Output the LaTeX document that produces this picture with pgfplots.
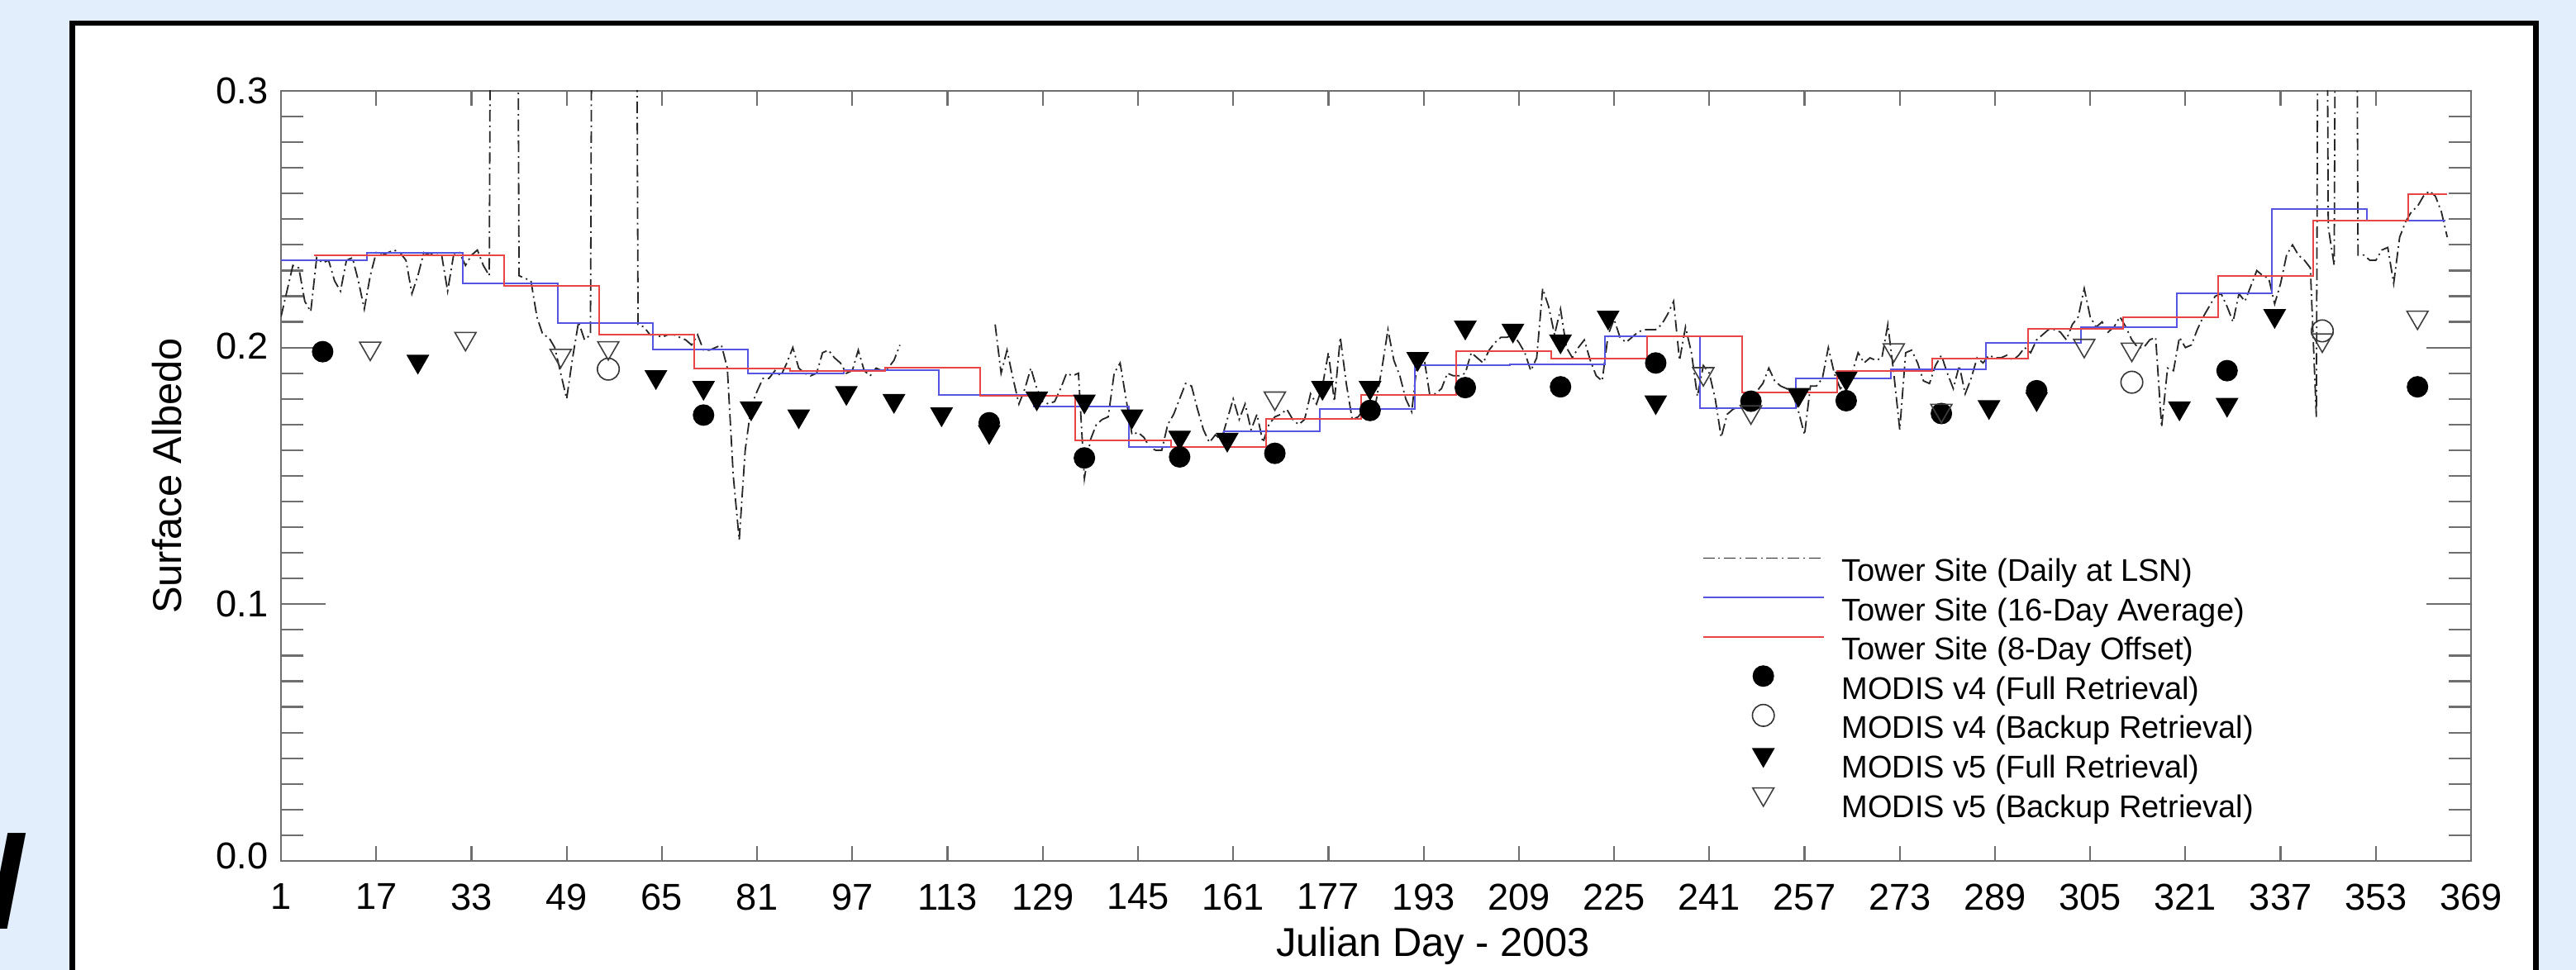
\documentclass[border=0pt]{standalone}
\usepackage{fontspec}
\setmainfont{Liberation Sans}
\usepackage{pgfplots}
\pgfplotsset{compat=1.18}
\definecolor{bgblue}{RGB}{226,238,252}
\definecolor{axgray}{RGB}{110,110,110}
\definecolor{avgblue}{RGB}{85,85,225}
\definecolor{offred}{RGB}{232,70,70}
\newcommand{\legendbox}{\pgfpathmoveto{\pgfpoint{0bp}{0bp}}\pgfpathlineto{\pgfpoint{36.5bp}{0bp}}\pgfusepath{}}
\pgfplotsset{
  linelegend/.style={legend image code/.code={\legendbox\begin{pgfinterruptboundingbox}\draw[##1] (0bp,4.4bp) -- (36.5bp,4.4bp);\end{pgfinterruptboundingbox}}},
  marklegend/.style={legend image code/.code={\legendbox\begin{pgfinterruptboundingbox}\draw[##1,only marks] plot coordinates {(18.25bp,4.4bp)};\end{pgfinterruptboundingbox}}},
}
\begin{document}
\begin{tikzpicture}
\path[use as bounding box] (0,0) rectangle (779.25bp,293.5bp);
\fill[bgblue] (0,0) rectangle (779.25bp,293.5bp);
\filldraw[fill=white,draw=black,line width=1.6bp] (21.9bp,-5bp) rectangle (767.1bp,286.5bp);
\node[anchor=base west,inner sep=0pt,font=\fontsize{40bp}{40bp}\selectfont\bfseries\itshape] at (-4bp,12.5bp) {l};
\begin{axis}[
  at={(85bp,33bp)}, anchor=south west,
  scale only axis, width=662.5bp, height=233bp,
  xmin=1, xmax=369, ymin=0, ymax=0.3,
  xtick={1,17,...,369},
  ytick={0,0.1,0.2,0.3},
  yticklabels={\raisebox{3.2bp}{0.0},0.1,\raisebox{1bp}{0.2},\raisebox{-2.5bp}{0.3}},
  minor y tick num=9,
  major tick length=4.5bp, minor tick length=6.75bp,
  extra y ticks={0.1,0.2},
  extra y tick labels={},
  extra tick style={major tick length=13.5bp},
  axis line style={axgray,line width=0.55bp},
  every tick/.style={axgray,line width=0.55bp},
  /pgf/number format/assume math mode=true,
  tick label style={font=\fontsize{11.3bp}{13bp}\selectfont,inner sep=0pt,black},
  yticklabel style={xshift=-3.75bp},
  xticklabel style={yshift=-6.75bp},
  xlabel={Julian Day - 2003},
  ylabel={Surface Albedo},
  xlabel style={at={(axis description cs:0.526,-0.1105)},anchor=center,font=\fontsize{12.2bp}{14bp}\selectfont},
  ylabel style={at={(axis description cs:-0.0521,0.5)},anchor=center,font=\fontsize{12.2bp}{14bp}\selectfont},
  unbounded coords=jump,
  legend style={at={(axis description cs:0.649,0.395)},anchor=north west,draw=none,fill=none,inner sep=0pt,
    font=\fontsize{9.5bp}{11bp}\selectfont,row sep=2.7bp,column sep=5.5bp,
    nodes={inner sep=0pt,text height=7.2bp,text depth=2bp}},
  legend cell align=left,
]
\addplot[black!85,line width=0.45bp,dash pattern=on 3.5bp off 1.2bp on 0.5bp off 1.2bp,linelegend] table {
x y
1 0.212
2 0.222
3 0.232
4 0.231
5 0.218
6 0.214
7 0.235
8 0.233
9 0.234
10 0.226
11 0.222
12 0.234
13 0.235
14 0.226
15 0.215
16 0.228
17 0.237
18 0.236
19 0.237
20 0.238
21 0.237
22 0.234
23 0.221
24 0.228
25 0.237
26 0.236
27 0.237
28 0.236
29 0.222
30 0.236
31 0.237
32 0.232
33 0.236
34 0.238
35 0.232
36 0.228
37 0.8
38 0.8
39 0.8
40 0.8
41 0.228
42 0.227
43 0.226
44 0.212
45 0.205
46 0.204
47 0.200
48 0.190
49 0.180
50 0.196
51 0.210
52 0.203
53 0.205
54 0.8
55 0.8
56 0.8
57 0.8
58 0.8
59 0.8
60 0.8
61 0.209
62 0.208
63 0.205
64 0.205
65 0.204
66 0.205
67 0.205
68 0.204
69 0.203
70 0.201
71 0.205
72 0.199
73 0.199
74 0.200
75 0.201
76 0.192
77 0.150
78 0.125
79 0.160
80 0.177
81 0.183
82 0.188
83 0.188
84 0.191
85 0.189
86 0.194
87 0.200
88 0.192
89 0.190
90 0.189
91 0.190
92 0.198
93 0.199
94 0.196
95 0.194
96 0.190
97 0.191
98 0.199
99 0.191
100 0.189
101 0.192
102 0.191
103 0.192
104 0.195
105 0.201
106 nan
121 0.209
122 0.190
123 0.199
124 0.188
125 0.178
126 0.184
127 0.192
128 0.184
129 0.179
130 0.178
131 0.179
132 0.184
133 0.190
134 0.189
135 0.190
136 0.149
137 0.164
138 0.170
139 0.172
140 0.173
141 0.190
142 0.194
143 0.180
144 0.166
145 0.167
146 0.165
147 0.161
148 0.160
149 0.160
150 0.170
151 0.174
152 0.180
153 0.186
154 0.185
155 0.176
156 0.168
157 0.163
158 0.166
159 0.164
160 0.172
161 0.180
162 0.172
163 0.178
164 0.168
165 0.174
166 0.163
167 0.170
168 0.173
169 0.174
170 0.176
171 0.172
172 0.170
173 0.172
174 0.182
175 0.178
176 0.185
177 0.198
178 0.179
179 0.204
180 0.186
181 0.172
182 0.173
183 0.176
184 0.178
185 0.179
186 0.192
187 0.207
188 0.195
189 0.189
190 0.180
191 0.175
192 0.196
193 0.197
194 0.182
195 0.182
196 0.184
197 0.190
198 0.189
199 0.189
200 0.190
201 0.198
202 0.196
203 0.194
204 0.199
205 0.202
206 0.204
207 0.204
208 0.205
209 0.202
210 0.198
211 0.191
212 0.196
213 0.223
214 0.216
215 0.205
216 0.215
217 0.200
218 0.196
219 0.200
220 0.203
221 0.195
222 0.189
223 0.187
224 0.205
225 0.211
226 0.204
227 0.202
228 0.204
229 0.206
230 0.207
231 0.207
232 0.207
233 0.209
234 0.213
235 0.218
236 0.195
237 0.208
238 0.198
239 0.181
240 0.193
241 0.190
242 0.180
243 0.165
244 0.174
245 0.176
246 0.177
247 0.179
248 0.179
249 0.183
250 0.186
251 0.192
252 0.187
253 0.185
254 0.184
255 0.182
256 0.175
257 0.166
258 0.185
259 0.185
260 0.188
261 0.200
262 0.190
263 0.184
264 0.186
265 0.190
266 0.198
267 0.194
268 0.196
269 0.195
270 0.196
271 0.209
272 0.190
273 0.168
274 0.198
275 0.199
276 0.194
277 0.187
278 0.186
279 0.193
280 0.197
281 0.190
282 0.184
283 0.193
284 0.182
285 0.188
286 0.196
287 0.194
288 0.197
289 0.196
290 0.196
291 0.197
292 0.195
293 0.197
294 0.200
295 0.198
296 0.203
297 0.205
298 0.207
299 0.207
300 0.206
301 0.203
302 0.209
303 0.212
304 0.223
305 0.212
306 0.208
307 0.210
308 0.206
309 0.208
310 0.212
311 0.208
312 0.203
313 0.200
314 0.200
315 0.203
316 0.204
317 0.169
318 0.192
319 0.191
320 0.204
321 0.200
322 0.201
323 0.207
324 0.212
325 0.216
326 0.220
327 0.221
328 0.216
329 0.210
330 0.221
331 0.218
332 0.224
333 0.230
334 0.228
335 0.227
336 0.217
337 0.225
338 0.236
339 0.240
340 0.236
341 0.234
342 0.231
343 0.173
344 0.8
345 0.247
346 0.232
347 0.8
348 0.8
349 0.8
350 0.236
351 0.236
352 0.234
353 0.234
354 0.238
355 0.239
356 0.225
357 0.243
358 0.249
359 0.253
360 0.255
361 0.259
362 0.261
363 0.259
364 0.253
365 0.243
};
\addlegendentry{Tower Site (Daily at LSN)}
\addplot[avgblue,line width=0.5bp,const plot mark left,linelegend] table {
x y
1 0.2339
15.5 0.2369
31.5 0.2249
47.5 0.2094
63.5 0.1993
79.5 0.1900
95.5 0.1913
111.5 0.1814
127.5 0.1769
143.5 0.1614
159.5 0.1674
175.5 0.1760
191.5 0.1931
207.5 0.1936
223.5 0.2043
239.5 0.1764
255.5 0.1880
271.5 0.1916
287.5 0.2019
303.5 0.2080
319.5 0.2210
335.5 0.2541
351.5 0.2494
364.7 0.2494
};
\addlegendentry{Tower Site (16-Day Average)}
\addplot[offred,line width=0.5bp,const plot mark left,linelegend] table {
x y
6.5 0.2359
22.5 0.2359
38.5 0.2240
54.5 0.2049
70.5 0.1919
86.5 0.1910
102.5 0.1922
118.5 0.1812
134.5 0.1638
150.5 0.1614
166.5 0.1722
182.5 0.1814
198.5 0.1986
214.5 0.1957
230.5 0.2043
246.5 0.1826
262.5 0.1910
278.5 0.1957
294.5 0.2073
310.5 0.2118
326.5 0.2279
342.5 0.2496
358.5 0.2597
364.9 0.2597
};
\addlegendentry{Tower Site (8-Day Offset)}
\addplot[only marks,mark=*,mark size=3.1bp,mark options={fill=black,draw=black,line width=0.3bp},marklegend] table {
x y
8 0.1984
72 0.1737
120 0.1707
136 0.1570
152 0.1574
168 0.1588
184 0.1755
200 0.1844
216 0.1847
232 0.1940
248 0.1791
264 0.1793
280 0.1743
296 0.1832
328 0.1910
360 0.1847
};
\addlegendentry{MODIS v4 (Full Retrieval)}
\addplot[only marks,mark=o,mark size=3.3bp,mark options={draw=black!80,line width=0.4bp},marklegend] table {
x y
56 0.1916
312 0.1865
344 0.2065
};
\addlegendentry{MODIS v4 (Backup Retrieval)}
\addplot[only marks,mark=triangle*,mark size=3.7bp,mark options={rotate=180,fill=black,draw=black,line width=0.3bp},marklegend] table {
x y
24 0.1946
64 0.1886
72 0.1844
80 0.1764
88 0.1733
96 0.1824
104 0.1793
112 0.1741
120 0.1672
128 0.1803
136 0.1791
144 0.1733
152 0.1650
160 0.1642
176 0.1844
184 0.1844
192 0.1957
200 0.2079
208 0.2067
216 0.2025
224 0.2118
232 0.1788
256 0.1817
264 0.1880
288 0.1769
296 0.1800
320 0.1764
328 0.1778
336 0.2124
};
\addlegendentry{MODIS v5 (Full Retrieval)}
\addplot[only marks,mark=triangle,mark size=3.7bp,mark options={rotate=180,draw=black!75,line width=0.4bp},marklegend] table {
x y
16 0.1997
32 0.2035
48 0.1969
56 0.1999
168 0.1803
240 0.1898
248 0.1749
272 0.1991
280 0.1755
304 0.2008
312 0.1993
344 0.2029
360 0.2118
};
\addlegendentry{MODIS v5 (Backup Retrieval)}
\end{axis}
\end{tikzpicture}
\end{document}
